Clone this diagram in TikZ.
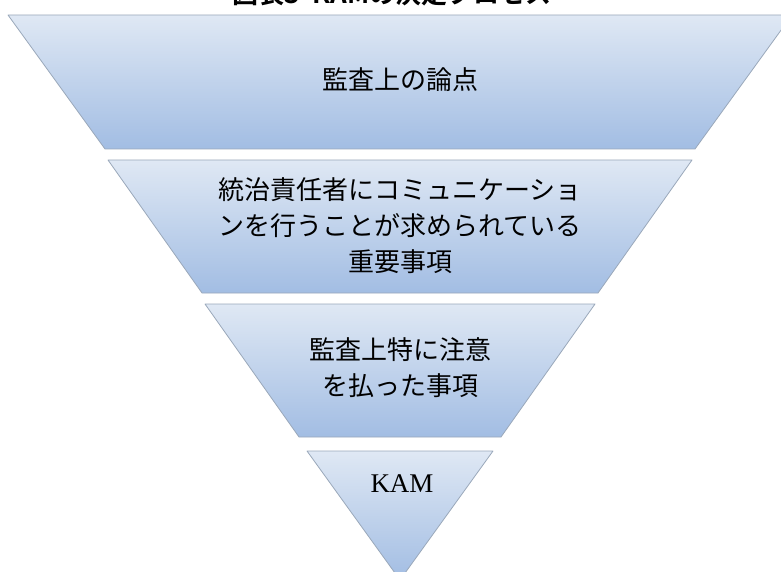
\documentclass[tikz,border=0pt]{standalone}
\usepackage{fontspec}
\newfontfamily\jp{Noto Sans CJK JP}
\newfontfamily\jpb{Noto Sans CJK JP Bold}
\setmainfont{Liberation Serif}
\definecolor{segtop}{HTML}{DFE8F4}
\definecolor{segbot}{HTML}{A2BDE3}
\definecolor{segline}{HTML}{9AA8BA}
\begin{document}
\begin{tikzpicture}[x=1pt,y=-1pt,
  seg/.style={top color=segtop,bottom color=segbot,draw=segline,line width=0.8pt,line join=round},
  jptext/.style={font=\jp\fontsize{26}{36}\selectfont,align=center,text=black,inner sep=0pt},
  entext/.style={font=\fontsize{27}{30}\selectfont,text=black,inner sep=0pt}]
\useasboundingbox (0,0) rectangle (781,572);
% title (cut off at the top edge, as in the reference)
\node[font=\jpb\fontsize{26}{30}\selectfont,anchor=base,inner sep=0pt] (title) at (392,4) {図表3\hspace{0.5em}KAMの決定プロセス};
% segments
\path[seg] (8,15) -- (792,15) -- (695,149) -- (105,149) -- cycle;
\path[seg] (108,160) -- (692,160) -- (598,293) -- (202,293) -- cycle;
\path[seg] (205,304) -- (595,304) -- (501,437) -- (299,437) -- cycle;
\path[seg] (307,451) -- (493,451) -- (400,580) -- cycle;
% texts
\node[jptext] (t1) at (400,80) {監査上の論点};
\node[jptext] (t2) at (400,226) {統治責任者にコミュニケーショ\\ンを行うことが求められている\\重要事項};
\node[jptext] (t3) at (400,368) {監査上特に注意\\を払った事項};
\node[entext] (t4) at (402,484) {KAM};
\end{tikzpicture}
\end{document}
